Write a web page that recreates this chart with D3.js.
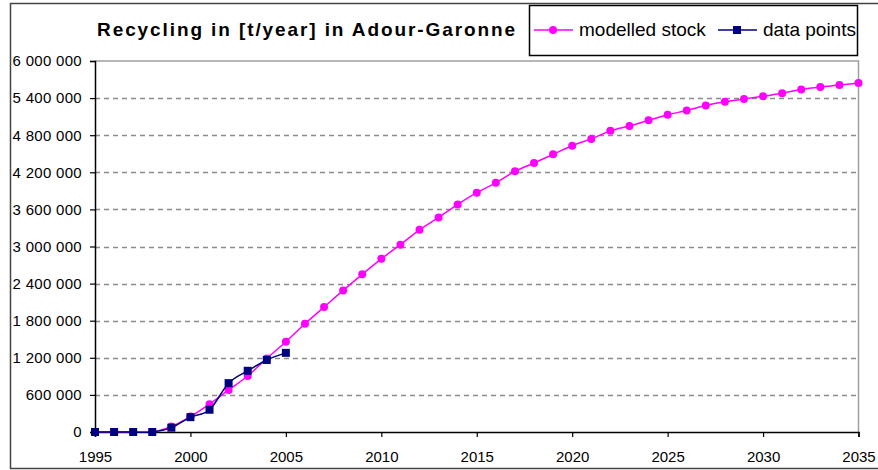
<!DOCTYPE html>
<html>
<head>
<meta charset="utf-8">
<script src="https://cdn.jsdelivr.net/npm/d3@7"></script>
<style>
  body { margin: 0; background: #fff; }
  svg { display: block; font-family: Arial, "Liberation Sans", sans-serif; }
</style>
</head>
<body>
<svg id="chart" width="878" height="470"></svg>
<script>
// Data
const years = d3.range(1995, 2036);
const modelled = [
  0, 0, 0, 0, 90000, 250000, 450000, 680000, 905000, 1190000,
  1460000, 1750000, 2020000, 2290000, 2550000, 2800000, 3030000, 3270000, 3470000, 3680000,
  3870000, 4030000, 4215000, 4350000, 4490000, 4630000, 4740000, 4870000, 4950000, 5040000,
  5130000, 5200000, 5280000, 5340000, 5385000, 5430000, 5480000, 5540000, 5580000, 5610000,
  5645000
];
const dataYears = [1995, 1996, 1997, 1998, 1999, 2000, 2001, 2002, 2003, 2004, 2005];
const dataPoints = [0, 0, 0, 0, 70000, 240000, 360000, 790000, 990000, 1165000, 1280000];
const yTicks = [0, 600000, 1200000, 1800000, 2400000, 3000000, 3600000, 4200000, 4800000, 5400000, 6000000];
const xTicks = [1995, 2000, 2005, 2010, 2015, 2020, 2025, 2030, 2035];

const PINK = '#ff00ff';
const NAVY = '#000080';

const svg = d3.select('#chart');

const x = d3.scaleLinear().domain([1995, 2035]).range([95, 858.5]);
const y = d3.scaleLinear().domain([0, 6000000]).range([432, 61]);

const fmt = v => d3.format(',')(v).replace(/,/g, ' ');

// Outer frame (right side runs off the picture)
svg.append('path')
  .attr('d', 'M900,3.5 H10.5 V468.5 H900')
  .attr('fill', 'none')
  .attr('stroke', '#444')
  .attr('stroke-width', 1.5);

// Gridlines
svg.append('g')
  .selectAll('line')
  .data(yTicks.filter(v => v > 0 && v < 6000000))
  .join('line')
  .attr('x1', x(1995)).attr('x2', x(2035))
  .attr('y1', d => Math.round(y(d)) + 0.5).attr('y2', d => Math.round(y(d)) + 0.5)
  .attr('stroke', '#8c8c8c')
  .attr('stroke-width', 1.4)
  .attr('stroke-dasharray', '5,4');

// Plot area top/right border
svg.append('path')
  .attr('d', `M${x(1995)},${y(6000000)} H${x(2035)} V${y(0)}`)
  .attr('fill', 'none')
  .attr('stroke', '#a0a0a0')
  .attr('stroke-width', 1.5);

// Axes
const yAxis = svg.append('g')
  .attr('transform', `translate(${x(1995)},0)`)
  .call(d3.axisLeft(y).tickValues(yTicks).tickFormat(fmt).tickSize(5).tickPadding(8));
const xAxis = svg.append('g')
  .attr('transform', `translate(0,${y(0)})`)
  .call(d3.axisBottom(x).tickValues(xTicks).tickFormat(d3.format('d')).tickSize(5).tickPadding(14));

[yAxis, xAxis].forEach(a => {
  a.select('.domain').attr('stroke', '#000').attr('stroke-width', 1.5);
  a.selectAll('.tick line').attr('stroke', '#000').attr('stroke-width', 1.2);
  a.selectAll('.tick text')
    .attr('fill', '#000')
    .attr('font-size', 15)
    .attr('font-family', 'Arial, "Liberation Sans", sans-serif');
});
yAxis.selectAll('.tick text').attr('letter-spacing', 0.3);

// Lines
const line = d3.line().curve(d3.curveCatmullRom.alpha(0));

svg.append('path')
  .datum(years.map((yr, i) => [x(yr), y(modelled[i])]))
  .attr('d', line)
  .attr('fill', 'none')
  .attr('stroke', PINK)
  .attr('stroke-width', 1.5);

svg.append('g')
  .selectAll('circle')
  .data(years.map((yr, i) => [yr, modelled[i]]))
  .join('circle')
  .attr('cx', d => x(d[0]))
  .attr('cy', d => y(d[1]))
  .attr('r', 4)
  .attr('fill', PINK);

svg.append('path')
  .datum(dataYears.map((yr, i) => [x(yr), y(dataPoints[i])]))
  .attr('d', line)
  .attr('fill', 'none')
  .attr('stroke', NAVY)
  .attr('stroke-width', 1.5);

svg.append('g')
  .selectAll('rect')
  .data(dataYears.map((yr, i) => [yr, dataPoints[i]]))
  .join('rect')
  .attr('x', d => x(d[0]) - 4)
  .attr('y', d => y(d[1]) - 4)
  .attr('width', 8)
  .attr('height', 8)
  .attr('fill', NAVY);

// Title
svg.append('text')
  .attr('x', 307)
  .attr('y', 36)
  .attr('text-anchor', 'middle')
  .attr('font-size', 19)
  .attr('font-weight', 'bold')
  .attr('letter-spacing', 1.9)
  .attr('fill', '#000')
  .text('Recycling in [t/year] in Adour-Garonne');

// Legend
const legend = svg.append('g');
legend.append('rect')
  .attr('x', 529.5).attr('y', 5.5)
  .attr('width', 328).attr('height', 50)
  .attr('fill', '#fff')
  .attr('stroke', '#000')
  .attr('stroke-width', 1.5);

const items = [
  { label: 'modelled stock', color: PINK, shape: 'circle', x0: 534 },
  { label: 'data points', color: NAVY, shape: 'square', x0: 718 }
];
items.forEach(it => {
  const g = legend.append('g');
  g.append('line')
    .attr('x1', it.x0).attr('x2', it.x0 + 39)
    .attr('y1', 30).attr('y2', 30)
    .attr('stroke', it.color).attr('stroke-width', 1.5);
  if (it.shape === 'circle') {
    g.append('circle').attr('cx', it.x0 + 19).attr('cy', 30).attr('r', 4).attr('fill', it.color);
  } else {
    g.append('rect').attr('x', it.x0 + 15).attr('y', 26).attr('width', 8).attr('height', 8).attr('fill', it.color);
  }
  g.append('text')
    .attr('x', it.x0 + 45)
    .attr('y', 36)
    .attr('font-size', 19)
    .attr('fill', '#000')
    .text(it.label);
});
</script>
</body>
</html>
